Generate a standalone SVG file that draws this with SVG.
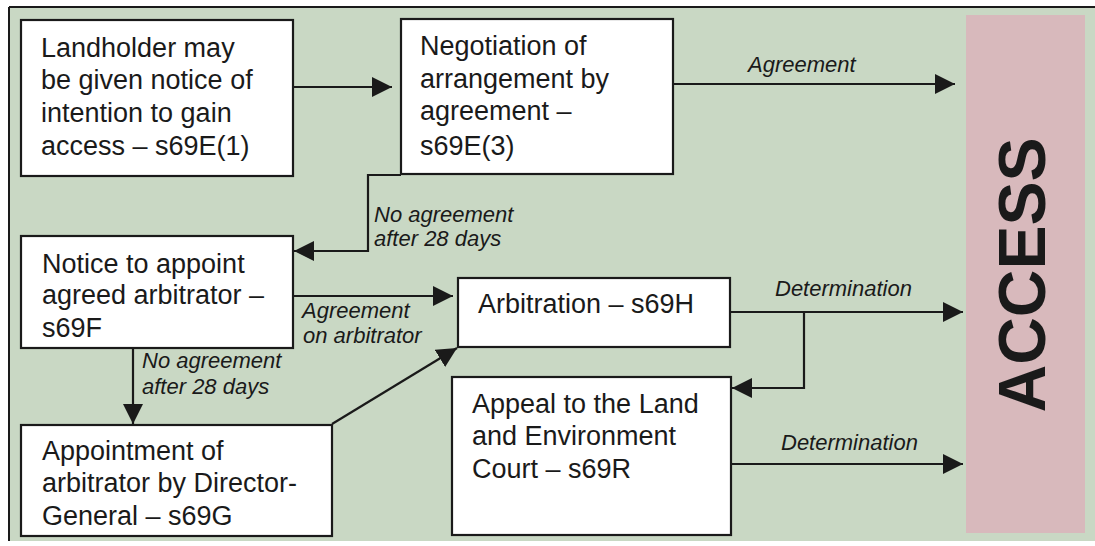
<svg xmlns="http://www.w3.org/2000/svg" width="1095" height="546" viewBox="0 0 1095 546">
<style>
.box{fill:#ffffff;stroke:#1a1a1a;stroke-width:2.2}
.t{font-family:"Liberation Sans",Arial,sans-serif;font-size:27px;fill:#1a1a1a}
.l{font-family:"Liberation Sans",Arial,sans-serif;font-size:22px;font-style:italic;fill:#1a1a1a}
.c{fill:none;stroke:#1a1a1a;stroke-width:2.2;marker-end:url(#ah)}
.acc{font-family:"Liberation Sans",Arial,sans-serif;font-size:66px;font-weight:bold;fill:#1a1a1a}
</style>
<defs>
<marker id="ah" markerUnits="userSpaceOnUse" markerWidth="22" markerHeight="20" refX="20" refY="10" orient="auto">
<path d="M0,0 L20,10 L0,20 z" fill="#1a1a1a"/>
</marker>
</defs>
<rect x="0" y="0" width="1095" height="546" fill="#ffffff"/>
<rect x="9" y="7" width="1090" height="534" fill="#c9d8c4"/>
<line x1="9" y1="7" x2="1095" y2="7" stroke="#1a1a1a" stroke-width="2"/>
<line x1="9" y1="7" x2="9" y2="541" stroke="#1a1a1a" stroke-width="2"/>
<g id="access">
<rect x="966" y="15" width="119" height="518" fill="#d8b9bc"/>
<text class="acc" text-anchor="middle" transform="translate(1021,275) rotate(-90)" x="0" y="24">ACCESS</text>
</g>
<g id="n1">
<rect class="box" x="21" y="20" width="272" height="156"/>
<text class="t" x="41" y="57">Landholder may</text>
<text class="t" x="41" y="89">be given notice of</text>
<text class="t" x="41" y="122">intention to gain</text>
<text class="t" x="41" y="155">access – s69E(1)</text>
</g>
<g id="n2">
<rect class="box" x="401" y="19" width="272" height="155"/>
<text class="t" x="420" y="55">Negotiation of</text>
<text class="t" x="420" y="88">arrangement by</text>
<text class="t" x="420" y="120">agreement –</text>
<text class="t" x="420" y="155">s69E(3)</text>
</g>
<g id="n3">
<rect class="box" x="21" y="236" width="272" height="112"/>
<text class="t" x="42" y="273">Notice to appoint</text>
<text class="t" x="42" y="304">agreed arbitrator –</text>
<text class="t" x="42" y="337">s69F</text>
</g>
<g id="n4">
<rect class="box" x="21" y="425" width="311" height="111"/>
<text class="t" x="42" y="460">Appointment of</text>
<text class="t" x="42" y="492">arbitrator by Director-</text>
<text class="t" x="42" y="525">General – s69G</text>
</g>
<g id="n5">
<rect class="box" x="458" y="278" width="272" height="69"/>
<text class="t" x="478" y="313">Arbitration – s69H</text>
</g>
<g id="n6">
<rect class="box" x="452" y="377" width="279" height="158"/>
<text class="t" x="472" y="413">Appeal to the Land</text>
<text class="t" x="472" y="445">and Environment</text>
<text class="t" x="472" y="478">Court – s69R</text>
</g>
<g id="connectors">
<path class="c" d="M293,87 H392"/>
<path class="c" d="M673,84 H955"/>
<text class="l" x="748" y="72">Agreement</text>
<path class="c" d="M401,175 H368 V251 H294"/>
<text class="l" x="374" y="222">No agreement</text>
<text class="l" x="374" y="246">after 28 days</text>
<path class="c" d="M293,296 H453"/>
<text class="l" x="302" y="318">Agreement</text>
<text class="l" x="303" y="343">on arbitrator</text>
<path class="c" d="M133,348 V424"/>
<text class="l" x="142" y="368">No agreement</text>
<text class="l" x="142" y="394">after 28 days</text>
<path class="c" d="M332,424 L457,348"/>
<path class="c" d="M730,312 H963"/>
<text class="l" x="775" y="296">Determination</text>
<path class="c" d="M804,312 V388 H732"/>
<path class="c" d="M731,464 H963"/>
<text class="l" x="781" y="450">Determination</text>
</g>
</svg>
